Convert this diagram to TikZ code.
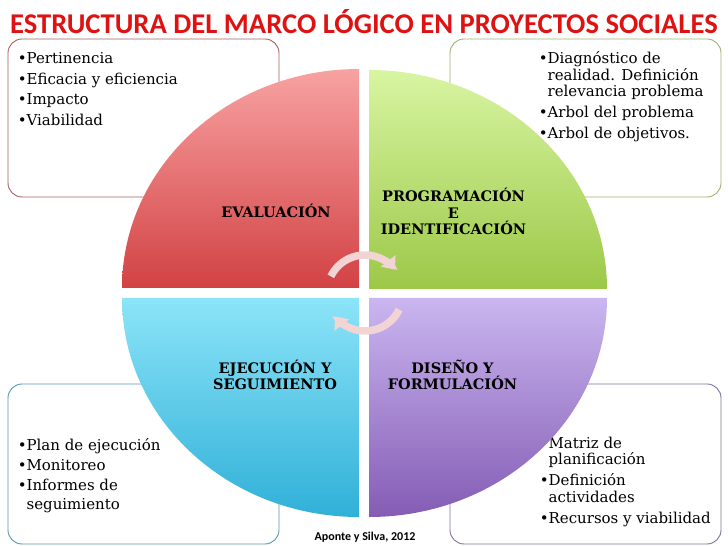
\documentclass[tikz,border=0pt]{standalone}
\usepackage{fontspec}
\setmainfont{DejaVu Serif}
\newfontfamily\titlefont{Carlito}
\usepackage{tikz}
\usetikzlibrary{positioning,arrows.meta}
\definecolor{titlered}{RGB}{222,18,18}
\definecolor{redtop}{RGB}{248,162,162}
\definecolor{redbot}{RGB}{210,66,68}
\definecolor{greentop}{RGB}{216,245,162}
\definecolor{greenbot}{RGB}{156,200,72}
\definecolor{bluetop}{RGB}{140,228,248}
\definecolor{bluebot}{RGB}{48,176,216}
\definecolor{purpletop}{RGB}{202,182,240}
\definecolor{purplebot}{RGB}{132,92,180}
\definecolor{redline}{RGB}{166,96,96}
\definecolor{greenline}{RGB}{160,176,112}
\definecolor{blueline}{RGB}{90,150,176}
\definecolor{purpleline}{RGB}{128,112,160}
\definecolor{pinkarrow}{RGB}{242,212,212}
\tikzstyle{box} = [rectangle, draw, fill=white, rounded corners=14pt,
    line width=0.9pt, minimum width=271pt, minimum height=158pt, inner sep=0pt]
\tikzstyle{items} = [align=left, inner sep=0pt,
    font=\fontsize{15}{16.5}\selectfont]
\tikzstyle{stage} = [align=center, inner sep=0pt,
    font=\bfseries\fontsize{14.5}{16.5}\selectfont]
\tikzstyle{turn} = [draw=pinkarrow, line width=7.5pt,
    -{Triangle[width=18pt,length=11pt]}]

\begin{document}
\begin{tikzpicture}[x=1pt, y=1pt]
    \useasboundingbox (0,0) rectangle (728,546);
    % Place nodes
    \node (title) at (364,524) {\titlefont\bfseries\fontsize{28.6}{30}\selectfont\color{titlered}ESTRUCTURA DEL MARCO LÓGICO EN PROYECTOS SOCIALES};
    \node [box, draw=redline] (tl) at (143.5,428) {};
    \node [box, draw=greenline] (tr) at (585.5,428) {};
    \node [box, draw=blueline, minimum height=160pt] (bl) at (143.5,82) {};
    \node [box, draw=purpleline, minimum height=160pt] (br) at (585.5,82) {};
    \node [items, font=\fontsize{15}{20.5}\selectfont, below right=14pt and 10pt of tl.north west] (tltext)
        {•Pertinencia\\•Eficacia y eficiencia\\•Impacto\\•Viabilidad};
    \node [items, below right=13pt and 89pt of tr.north west] (trtext)
        {•Diagnóstico de\\\hphantom{•}realidad. Definición\\\hphantom{•}relevancia problema\\[4.5pt]•Arbol del problema\\[4.5pt]•Arbol de objetivos.};
    \node [items, font=\fontsize{15}{19.7}\selectfont, below right=55pt and 10pt of bl.north west] (bltext)
        {•Plan de ejecución\\•Monitoreo\\•Informes de\\\hphantom{•}seguimiento};
    \node [items, below right=53pt and 90pt of br.north west] (brtext)
        {•Matriz de\\\hphantom{•}planificación\\[4.5pt]•Definición\\\hphantom{•}actividades\\[4.5pt]•Recursos y viabilidad};
    % quarters of the cycle
    \path [top color=redtop, bottom color=redbot]
        (359,258) -- (122,258) arc [start angle=180, end angle=90, x radius=237, y radius=219] -- cycle;
    \path [top color=greentop, bottom color=greenbot]
        (369,257) -- (369,476) arc [start angle=90, end angle=0, x radius=238, y radius=219] -- cycle;
    \path [top color=bluetop, bottom color=bluebot]
        (359,248) -- (122,248) arc [start angle=180, end angle=270, x radius=237, y radius=219] -- cycle;
    \path [top color=purpletop, bottom color=purplebot]
        (369,248) -- (607,248) arc [start angle=0, end angle=-90, x radius=238, y radius=219] -- cycle;
    \node [stage] (ev) at (276,335.5) {EVALUACIÓN};
    \node [stage] (pr) at (453.5,334.5) {PROGRAMACIÓN\\E\\IDENTIFICACIÓN};
    \node [stage] (ej) at (275,171) {EJECUCIÓN Y\\SEGUIMIENTO};
    \node [stage] (di) at (452.5,171) {DISEÑO Y\\FORMULACIÓN};
    \coordinate (hub) at (365,253);
    % Draw edges
    \path [turn] ([shift={(154:38)}]hub) arc [start angle=154, end angle=38, radius=38];
    \path [turn] ([shift={(-26:38)}]hub) arc [start angle=-26, end angle=-142, radius=38];
    \node (src) at (365,9) {\titlefont\bfseries\fontsize{12}{14}\selectfont Aponte y Silva, 2012};
\end{tikzpicture}
\end{document}
